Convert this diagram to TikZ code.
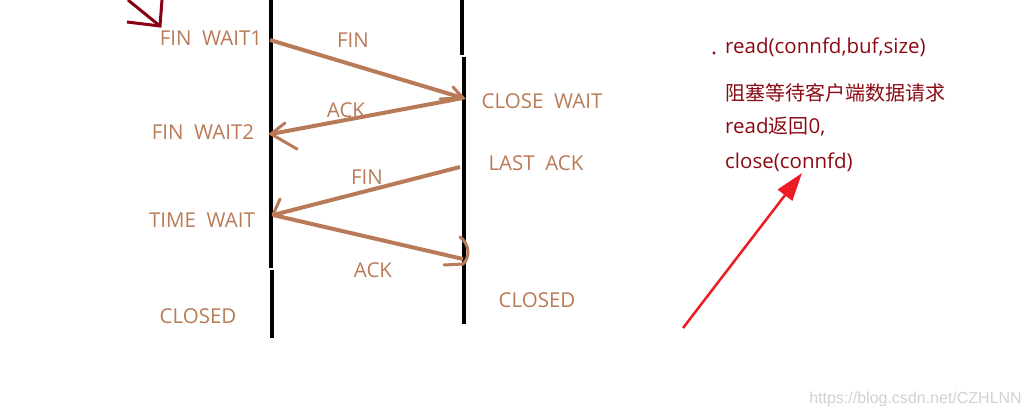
\documentclass[tikz,border=0pt]{standalone}
\usepackage{fontspec}
\setmainfont{Open Sans}
\newfontfamily\cjk{Noto Sans CJK SC}
\newfontfamily\wmfont{Liberation Sans}
\usetikzlibrary{arrows.meta}
\definecolor{pbrown}{HTML}{B97A57}
\definecolor{pdred}{HTML}{880015}
\definecolor{pred}{HTML}{ED1C24}
\definecolor{tdred}{HTML}{8B0A14}
\tikzset{
  lbl/.style={text=pbrown, font=\fontsize{20.5}{22}\selectfont, inner sep=0pt},
  note/.style={text=tdred, font=\fontsize{20.5}{22}\selectfont, inner sep=0pt, anchor=west},
  life/.style={line width=4pt, black},
  msg/.style={line width=4pt, pbrown},
  barb/.style={line width=3pt, pbrown, line cap=round},
}
\begin{document}
\begin{tikzpicture}[x=1pt,y=-1pt]
\useasboundingbox (0,0) rectangle (1030,417);
% lifelines
\draw[life] (271,0) -- (271,268);
\draw[life] (272,270) -- (272,338);
\draw[life] (462,0) -- (462,55);
\draw[life] (464,57) -- (464,324);
% dark red arrow top-left
\coordinate (da1) at (128,0);
\coordinate (da2) at (160,26);
\draw[pdred, line width=3pt] (da1) -- (da2);
\draw[pdred, line width=3pt] (127,22) -- (160,26) -- (162,0);
% labels
\node[lbl] (fw1) at (211,38) {FIN\ \ WAIT1};
\node[lbl] (fin1) at (353,40) {FIN};
\node[lbl] (cw) at (542,101) {CLOSE\ \ WAIT};
\node[lbl] (ack1) at (346,110) {ACK};
\node[lbl] (fw2) at (203,132) {FIN\ \ WAIT2};
\node[lbl] (la) at (536,163) {LAST\ \ ACK};
\node[lbl] (fin2) at (367,177) {FIN};
\node[lbl] (tw) at (202,220) {TIME\ \ WAIT};
\node[lbl] (ack2) at (373,270) {ACK};
\node[lbl] (cl1) at (198,316) {CLOSED};
\node[lbl] (cl2) at (537,300) {CLOSED};
% message endpoints
\coordinate (p1) at (270,40);
\coordinate (p2) at (463,98);
\coordinate (p3) at (271,134);
\coordinate (p4) at (460,167);
\coordinate (p5) at (273,215);
\coordinate (p6) at (463,259);
% messages
\draw[msg] (p1) -- (p2);
\draw[barb] (453,87) -- (p2) -- (440,99);
\draw[msg] (p2) -- (p3);
\draw[barb] (285,123) -- (p3) -- (297,149);
\draw[msg] (p4) -- (p5);
\draw[barb] (280,199) -- (p5);
\draw[msg] (p5) -- (p6);
\draw[barb] (460,237) .. controls (470,244) and (470,258) .. (463,264) -- (444,265);
% right notes
\fill[tdred] (714,53) circle (1.6pt);
\node[note] (n1) at (725,47) {read(connfd,buf,size)};
\node[note] (n2) at (725,93) {\cjk\fontsize{20}{22}\selectfont 阻塞等待客户端数据请求};
\node[note] (n3) at (725,127) {read{\cjk\fontsize{20}{22}\selectfont 返回}0,};
\node[note] (n4) at (725,162) {close(connfd)};
% red arrow
\coordinate (ra1) at (683,328);
\coordinate (ra2) at (802,173);
\draw[pred, line width=2.5pt, -{Triangle[length=28pt,width=18pt]}] (ra1) -- (ra2);
% watermark
\node[text=black!18, font=\wmfont\fontsize{16}{18}\selectfont, inner sep=0pt, anchor=east] (wm) at (1022,399) {https://blog.csdn.net/CZHLNN};
\end{tikzpicture}
\end{document}
